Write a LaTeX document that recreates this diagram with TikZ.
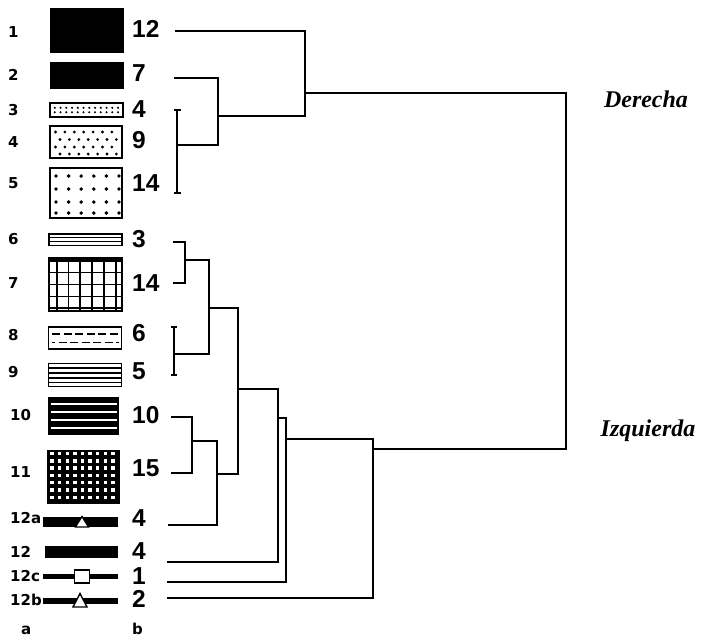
\documentclass[tikz,border=0pt]{standalone}
\usepackage{fontspec}
\setmainfont{Liberation Serif}
\newfontfamily\numfont{Liberation Sans}
\newfontfamily\labfont{DejaVu Sans}
\begin{document}
\begin{tikzpicture}[x=1pt,y=-1pt]
\tikzset{
  dline/.style={line width=1.5pt, line join=miter},
  numlbl/.style={anchor=west, inner sep=0pt, font=\numfont\bfseries\fontsize{24.5}{24.5}\selectfont},
  rowlbl/.style={anchor=west, inner sep=0pt, font=\labfont\bfseries\fontsize{15}{15}\selectfont},
  sidelbl/.style={inner sep=0pt, font=\bfseries\itshape\fontsize{24}{24}\selectfont},
  boxo/.style={draw=black, line width=1.4pt, fill=white},
  blk/.style={fill=black},
}
\useasboundingbox (0,0) rectangle (701,641);
\fill[white] (0,0) rectangle (701,641);

% ---------- row labels (column a)
\node[rowlbl] (la1)  at (8,32)  {1};
\node[rowlbl] (la2)  at (8,75)  {2};
\node[rowlbl] (la3)  at (8,110) {3};
\node[rowlbl] (la4)  at (8,142) {4};
\node[rowlbl] (la5)  at (8,183) {5};
\node[rowlbl] (la6)  at (8,239) {6};
\node[rowlbl] (la7)  at (8,283) {7};
\node[rowlbl] (la8)  at (8,335) {8};
\node[rowlbl] (la9)  at (8,372) {9};
\node[rowlbl] (la10) at (10,415) {10};
\node[rowlbl] (la11) at (10,472) {11};
\node[rowlbl] (la12a) at (10,518) {12a};
\node[rowlbl] (la12) at (10,552) {12};
\node[rowlbl] (la12c) at (10,576) {12c};
\node[rowlbl] (la12b) at (10,600) {12b};
\node[rowlbl] (cola) at (21,630) {a};
\node[rowlbl] (colb) at (132,629) {b};

% ---------- numbers (column b)
\node[numlbl] (n1)  at (132,29)  {12};
\node[numlbl] (n2)  at (132,73)  {7};
\node[numlbl] (n3)  at (132,109) {4};
\node[numlbl] (n4)  at (132,140) {9};
\node[numlbl] (n5)  at (132,183) {14};
\node[numlbl] (n6)  at (132,239) {3};
\node[numlbl] (n7)  at (132,283) {14};
\node[numlbl] (n8)  at (132,333) {6};
\node[numlbl] (n9)  at (132,371) {5};
\node[numlbl] (n10) at (132,415) {10};
\node[numlbl] (n11) at (132,468) {15};
\node[numlbl] (n12a) at (132,518) {4};
\node[numlbl] (n12) at (132,551) {4};
\node[numlbl] (n12c) at (132,576) {1};
\node[numlbl] (n12b) at (132,599) {2};

% ---------- symbols
% 1, 2
\fill[blk] (50,8) rectangle (124,53);
\fill[blk] (50,62) rectangle (124,89);
% 3 dense dots
\draw[boxo] (50,103) rectangle (123,117);
\foreach \i in {0,...,11} \foreach \yy in {107.8,112.2} \fill (54.8+5.75*\i,\yy) circle (1.15pt);
% 4 staggered dots
\draw[boxo] (50,126) rectangle (122,158);
\foreach \yy/\o in {132/0,139.5/4.5,147/0,154/4.5} \foreach \i in {0,...,6} \fill (55.5+\o+9.4*\i,\yy) circle (1.55pt);
% 5 dots
\draw[boxo] (50,168) rectangle (122,218);
\foreach \yy in {176,189,202,213} \foreach \i in {0,...,5} \fill (56+12.6*\i,\yy) circle (1.95pt);
% 6 double lines
\draw[boxo] (49,234) rectangle (122,245.5);
\draw[line width=1pt] (49,237.8) -- (122,237.8) (49,241.6) -- (122,241.6);
% 7 grid
\draw[boxo] (49,258) rectangle (122,311);
\fill[blk] (48.5,256.5) rectangle (122.5,261.5);
\foreach \xx in {57,68.5,80,92,104,116} \draw[line width=1.8pt] (\xx,261) -- (\xx,311);
\foreach \yy in {272.5,284.5,296.5,308} \draw[line width=1.8pt] (49,\yy) -- (122,\yy);
\draw[line width=2pt] (49,310.5) -- (122,310.5);
% 8 dashes
\draw[boxo, line width=1.8pt] (48.5,327) rectangle (121.5,349);
\draw[line width=1.8pt, dash pattern=on 8pt off 3.5pt] (52,334) -- (119,334);
\draw[line width=1.8pt, dash pattern=on 8pt off 3.5pt, dash phase=5pt] (52,342.5) -- (119,342.5);
% 9 lines
\draw[boxo] (48.5,363.5) rectangle (121.5,386.5);
\foreach \yy in {368,373,378,382.5} \draw[line width=1.4pt] (48.5,\yy) -- (121.5,\yy);
% 10 black with white stripes
\fill[blk] (48,397) rectangle (119,435);
\foreach \yy in {404,412,420,428} \fill[white] (51,\yy-1.3) rectangle (117,\yy+1.3);
% 11 black with white squares
\fill[blk] (47,450) rectangle (120,504);
\foreach \j in {0,...,6} \foreach \i in {0,...,8}
  \fill[white] (52+7.6*\i-1.7,453.5+7.3*\j-1.7) rectangle ++(3.4,3.4);
% 12a
\fill[blk] (43,517) rectangle (118,527);
\draw[line width=1.3pt, fill=white] (75.5,527) -- (88.5,527) -- (82,516.5) -- cycle;
% 12
\fill[blk] (45,546) rectangle (118,558);
% 12c
\fill[blk] (43,573.5) rectangle (118,579);
\draw[line width=1.5pt, fill=white] (74.5,570) rectangle (89.5,583);
% 12b
\fill[blk] (43,598) rectangle (118,604);
\draw[line width=1.4pt, fill=white] (73,607) -- (87,607) -- (80,593.5) -- cycle;

% ---------- dendrogram: leaf ends
\coordinate (e12top) at (175,31);
\coordinate (e7)   at (174,78);
\coordinate (b1t)  at (177,110);
\coordinate (b1b)  at (177,193);
\coordinate (b1m)  at (177,145);
\coordinate (e3)   at (173,242);
\coordinate (e14)  at (173,283);
\coordinate (b2t)  at (174,327);
\coordinate (b2b)  at (174,375);
\coordinate (b2m)  at (174,354);
\coordinate (e10)  at (171,417);
\coordinate (e15)  at (171,473);
\coordinate (e12a) at (168,525);
\coordinate (e12)  at (167,562);
\coordinate (e12c) at (167,582);
\coordinate (e12b) at (167,598);
% junctions
\coordinate (k1) at (218,116);
\coordinate (k2) at (305,93);
\coordinate (c1) at (185,260);
\coordinate (c2) at (209,308);
\coordinate (c3) at (192,441);
\coordinate (c4) at (217,474);
\coordinate (c5) at (238,389);
\coordinate (c6) at (278,418);
\coordinate (c7) at (286,439);
\coordinate (c8) at (373,449);
\coordinate (root) at (566,270);

% brackets
\draw[dline] (b1t) -- (b1b);
\draw[dline] ([xshift=-3.5pt]b1t) -- ([xshift=3.5pt]b1t);
\draw[dline] ([xshift=-3.5pt]b1b) -- ([xshift=3.5pt]b1b);
\draw[dline] (b2t) -- (b2b);
\draw[dline] ([xshift=-3pt]b2t) -- ([xshift=3pt]b2t);
\draw[dline] ([xshift=-3pt]b2b) -- ([xshift=3pt]b2b);

% joins
\draw[dline] (e7) -| (k1) |- (b1m);
\draw[dline] (e12top) -| (k2) |- (k1);
\draw[dline] (e3) -| (c1) |- (e14);
\draw[dline] (c1) -| (c2) |- (b2m);
\draw[dline] (e10) -| (c3) |- (e15);
\draw[dline] (c3) -| (c4) |- (e12a);
\draw[dline] (c2) -| (c5) |- (c4);
\draw[dline] (c5) -| (c6) |- (e12);
\draw[dline] (c6) -| (c7) |- (e12c);
\draw[dline] (c7) -| (c8) |- (e12b);
\draw[dline] (k2) -| (root) |- (c8);

% side labels
\node[sidelbl] (der) at (646,99) {Derecha};
\node[sidelbl] (izq) at (648,431) {Izquierda};
\end{tikzpicture}
\end{document}
